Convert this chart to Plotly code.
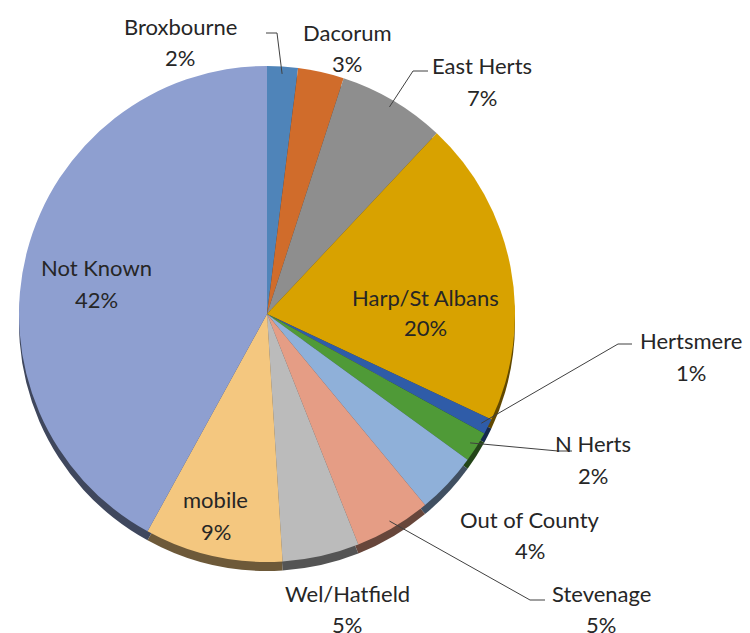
import math
import plotly.graph_objects as go

# Share of records by district
labels = ["Broxbourne", "Dacorum", "East Herts", "Harp/St Albans", "Hertsmere",
          "N Herts", "Out of County", "Stevenage", "Wel/Hatfield", "mobile", "Not Known"]
values = [2, 3, 7, 20, 1, 2, 4, 5, 5, 9, 42]
colors = ["#4F84B9", "#D06C2B", "#8E8E8E", "#D8A200", "#2F5CA8", "#4F9A37",
          "#8FB0D9", "#E59D85", "#BBBBBB", "#F4C77F", "#8E9FD0"]

W, H = 750, 633
CX, CY, R = 267, 314, 248      # pie centre and radius in pixels
DROP = 9                       # depth of the extruded rim

def shade(hex_color, k):
    r, g, b = (int(hex_color[i:i + 2], 16) for i in (1, 3, 5))
    return "rgb(%d,%d,%d)" % (r * k, g * k, b * k)

def domain(cy):
    return dict(x=[(CX - R) / W, (CX + R) / W],
                y=[1 - (cy + R) / H, 1 - (cy - R) / H])

fig = go.Figure()
# darker copy underneath, shifted down to give the pie a rim
fig.add_trace(go.Pie(labels=labels, values=values, sort=False, direction="clockwise",
                     rotation=0, textinfo="none", hoverinfo="skip", showlegend=False,
                     marker=dict(colors=[shade(c, 0.45) for c in colors], line=dict(width=0)),
                     domain=domain(CY + DROP)))
fig.add_trace(go.Pie(labels=labels, values=values, sort=False, direction="clockwise",
                     rotation=0, textinfo="none", showlegend=False,
                     marker=dict(colors=colors, line=dict(width=0)),
                     domain=domain(CY)))

total = sum(values)
cum = 0
mid_angle = {}
for lab, v in zip(labels, values):
    mid_angle[lab] = (cum + v / 2) / total * 2 * math.pi
    cum += v

def edge_point(lab, frac=0.97):
    a = mid_angle[lab]
    return CX + R * frac * math.sin(a), CY - R * frac * math.cos(a)

# label placement: (x, y of name line, y of percent line)
label_pos = {
    "Broxbourne": (180, 27, 58),
    "Dacorum": (347, 32, 64),
    "East Herts": (482, 65, 97),
    "Harp/St Albans": (425, 297, 328),
    "Hertsmere": (691, 340, 372),
    "N Herts": (593, 443, 475),
    "Out of County": (530, 519, 550),
    "Stevenage": (601, 593, 624),
    "Wel/Hatfield": (347, 593, 624),
    "mobile": (216, 499, 531),
    "Not Known": (96, 267, 299),
}
# elbow of the leader line: (start x of short horizontal, end x, y)
leaders = {
    "Broxbourne": (266, 277, 33),
    "East Herts": (428, 413, 71),
    "Hertsmere": (632, 618, 344),
    "N Herts": (572, 558, 451),
    "Stevenage": (545, 530, 600),
}

FONT = dict(family="Lato, Open Sans, sans-serif", size=22, color="#262626")
for lab, v in zip(labels, values):
    x, y1, y2 = label_pos[lab]
    for txt, yy in ((lab, y1), (f"{v}%", y2)):
        fig.add_annotation(x=x / W, y=1 - yy / H, xref="paper", yref="paper",
                           text=txt, showarrow=False, font=FONT,
                           xanchor="center", yanchor="middle")

for lab, (x0, x1, y) in leaders.items():
    ex, ey = edge_point(lab)
    fig.add_shape(type="path", xref="paper", yref="paper",
                  path=f"M {x0 / W} {1 - y / H} L {x1 / W} {1 - y / H} L {ex / W} {1 - ey / H}",
                  line=dict(color="#404040", width=1))

fig.update_layout(width=W, height=H, margin=dict(l=0, r=0, t=0, b=0),
                  paper_bgcolor="white", plot_bgcolor="white")
fig.write_html("out.html")
